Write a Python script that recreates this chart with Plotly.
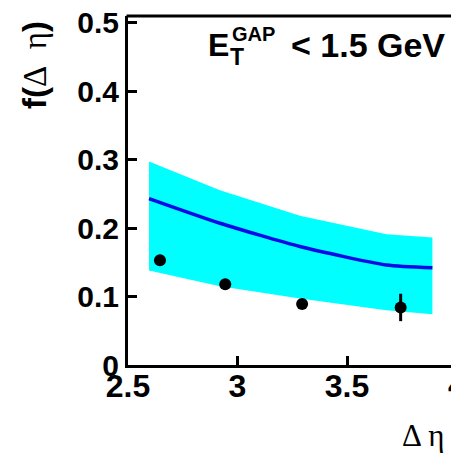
import plotly.graph_objects as go

# Data
band_x = [2.596, 2.92, 3.285, 3.68, 3.89]
band_upper = [0.297, 0.255, 0.218, 0.191, 0.186]
band_lower = [0.138, 0.115, 0.097, 0.080, 0.074]
curve_y = [0.243, 0.207, 0.173, 0.146, 0.142]

data_x = [2.646, 2.944, 3.295, 3.745]
data_y = [0.153, 0.118, 0.089, 0.084]
data_err = [0.004, 0.004, 0.004, 0.020]

x_tickvals = [2.5, 3, 3.5]
x_ticktext = ["2.5", "3", "3.5"]
y_tickvals = [0, 0.1, 0.2, 0.3, 0.4, 0.5]
y_ticktext = ["0", "0.1", "0.2", "0.3", "0.4", "0.5"]

W, H = 451, 456
L, R, T, B = 128, 0, 16, 91
PW, PH = W - L - R, H - T - B


def px(xpix):  # xpix: pixel in the window
    return (xpix - L) / PW


def py(ypix):
    return (H - B - ypix) / PH


fig = go.Figure()

fig.add_trace(go.Scatter(x=band_x, y=band_lower, mode="lines",
                         line=dict(width=0, color="#00FFFF"), showlegend=False,
                         hoverinfo="skip"))
fig.add_trace(go.Scatter(x=band_x, y=band_upper, mode="lines", fill="tonexty",
                         fillcolor="#00FFFF", line=dict(width=0, color="#00FFFF"),
                         showlegend=False, hoverinfo="skip"))
fig.add_trace(go.Scatter(x=band_x, y=curve_y, mode="lines",
                         line=dict(width=3.5, color="#0a0ae6", shape="spline",
                                   smoothing=0.6),
                         showlegend=False))
fig.add_trace(go.Scatter(x=data_x, y=data_y, mode="markers",
                         marker=dict(size=12, color="black"),
                         error_y=dict(type="data", array=data_err, color="black",
                                      thickness=3, width=0),
                         showlegend=False))

ytickfont = dict(family="Liberation Sans", size=30, color="black", weight="bold")
xtickfont = dict(family="Liberation Sans", size=32, color="black", weight="bold")

fig.update_xaxes(range=[2.5, 2.5 + PW / 219.0], tickvals=x_tickvals,
                 ticktext=x_ticktext, ticks="inside", ticklen=9, tickwidth=3,
                 tickcolor="black", showline=True, linewidth=3, linecolor="black",
                 mirror=False, showgrid=False, zeroline=False, tickfont=xtickfont,
                 ticklabelstandoff=-9, ticklabeloverflow="allow")
fig.update_yaxes(range=[0, 0.5095], tickvals=y_tickvals, ticktext=y_ticktext,
                 ticks="inside", ticklen=9, tickwidth=3, tickcolor="black",
                 showline=True, linewidth=3, linecolor="black", mirror=False,
                 showgrid=False, zeroline=False, tickfont=ytickfont,
                 ticklabeloverflow="allow")

# top frame line
fig.add_shape(type="line", xref="paper", yref="paper", x0=px(126.5), x1=1.0,
              y0=1, y1=1, line=dict(color="black", width=3))

annots = []
# partially visible "4" tick label
annots.append(dict(x=px(457), y=py(385), xref="paper", yref="paper", text="4",
                   showarrow=False, xanchor="center", yanchor="middle",
                   font=xtickfont))
# y axis title
annots.append(dict(x=px(34), y=py(65), xref="paper", yref="paper",
                   text="<b>f(</b><span style='font-family:Liberation Serif'>Δ\u2002η</span><b>)</b>",
                   textangle=-90, showarrow=False, xanchor="center", yanchor="middle",
                   font=dict(family="Liberation Sans", size=33, color="black")))
# x axis title
annots.append(dict(x=px(400), y=py(435), xref="paper", yref="paper",
                   text="Δ\u2009η", showarrow=False, xanchor="left", yanchor="middle",
                   font=dict(family="Liberation Serif", size=31, color="black")))
# label E_T^GAP < 1.5 GeV
lab = dict(family="Liberation Sans", color="black", weight="bold")
annots.append(dict(x=px(218), y=py(45), xref="paper", yref="paper", text="E",
                   showarrow=False, xanchor="center", yanchor="middle",
                   font=dict(size=32, **lab)))
annots.append(dict(x=px(253.5), y=py(34), xref="paper", yref="paper", text="GAP",
                   showarrow=False, xanchor="center", yanchor="middle",
                   font=dict(size=20, **lab)))
annots.append(dict(x=px(236.5), y=py(57), xref="paper", yref="paper", text="T",
                   showarrow=False, xanchor="center", yanchor="middle",
                   font=dict(size=23, **lab)))
annots.append(dict(x=px(367.5), y=py(45), xref="paper", yref="paper",
                   text="< 1.5 GeV", showarrow=False, xanchor="center", yanchor="middle",
                   font=dict(size=34, **lab)))

fig.update_layout(width=W, height=H, margin=dict(l=L, r=R, t=T, b=B, pad=0),
                  paper_bgcolor="white", plot_bgcolor="white",
                  annotations=annots, showlegend=False)

page_css = ("document.documentElement.style.overflow='hidden';"
            "document.body.style.margin='0';"
            "document.body.style.overflow='hidden';")
fig.write_html("out.html", config={"displayModeBar": False}, post_script=page_css)
